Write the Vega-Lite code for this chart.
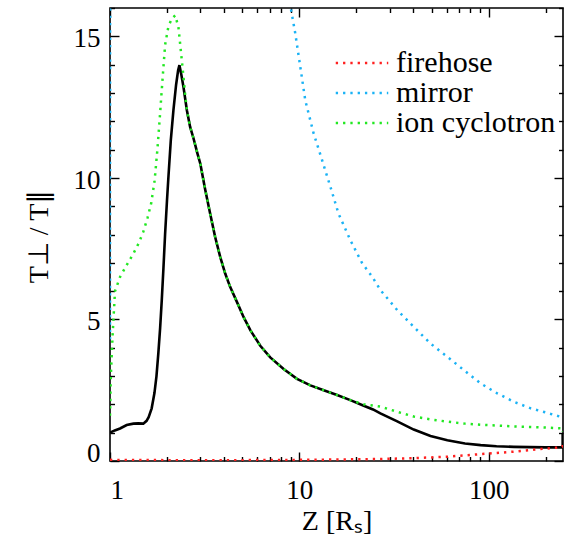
{
  "$schema": "https://vega.github.io/schema/vega-lite/v6.json",
  "width": 453,
  "height": 453,
  "autosize": "none",
  "padding": {"left": 110, "top": 8, "right": 15, "bottom": 79},
  "background": "white",
  "config": {
    "view": {"stroke": "black", "strokeWidth": 1.6},
    "font": "Liberation Serif",
    "axis": {
      "grid": false,
      "domain": false,
      "ticks": true,
      "tickColor": "black",
      "tickWidth": 1.4,
      "labelFont": "Liberation Serif",
      "labelFontSize": 27,
      "labelColor": "black",
      "labelOverlap": false,
      "titleFont": "Liberation Serif",
      "titleFontSize": 28,
      "titleFontWeight": "normal",
      "titleColor": "black"
    }
  },
  "datasets": {
    "T": [
      {"z":1.0,"v":1.0},{"z":1.06,"v":1.08},{"z":1.13,"v":1.15},{"z":1.225,"v":1.27},{"z":1.33,"v":1.32},{"z":1.41,"v":1.33},{"z":1.5,"v":1.32},{"z":1.56,"v":1.42},{"z":1.6,"v":1.55},{"z":1.66,"v":1.86},{"z":1.717,"v":2.4},{"z":1.76,"v":3.0},{"z":1.8,"v":3.8},{"z":1.84,"v":4.7},{"z":1.877,"v":5.68},{"z":1.915,"v":6.8},{"z":1.954,"v":8.0},{"z":2.0,"v":9.2},{"z":2.035,"v":10.03},{"z":2.095,"v":11.33},{"z":2.163,"v":12.39},{"z":2.235,"v":13.3},{"z":2.29,"v":13.8},{"z":2.327,"v":13.98},{"z":2.38,"v":13.65},{"z":2.444,"v":13.21},{"z":2.547,"v":12.39},{"z":2.65,"v":11.8},{"z":2.76,"v":11.4},{"z":2.9,"v":10.85},{"z":3.0,"v":10.5},{"z":3.18,"v":9.6},{"z":3.38,"v":8.74},{"z":3.59,"v":7.92},{"z":3.82,"v":7.21},{"z":4.06,"v":6.62},{"z":4.31,"v":6.15},{"z":4.68,"v":5.62},{"z":5.08,"v":5.08},{"z":5.51,"v":4.62},{"z":6.22,"v":4.07},{"z":7.02,"v":3.66},{"z":8.26,"v":3.25},{"z":9.72,"v":2.9},{"z":11.44,"v":2.67},{"z":13.45,"v":2.5},{"z":15.82,"v":2.33},{"z":18.6,"v":2.15},{"z":21.9,"v":1.95},{"z":24.5,"v":1.82},{"z":26.8,"v":1.68},{"z":32.9,"v":1.4},{"z":40.2,"v":1.11},{"z":49.3,"v":0.88},{"z":60.5,"v":0.73},{"z":75,"v":0.62},{"z":90.7,"v":0.56},{"z":110,"v":0.52},{"z":136,"v":0.5},{"z":200,"v":0.48},{"z":246,"v":0.48},{"z":246,"v":0.95}
    ],
    "thr": [
      {"s":"firehose","g":"f","z":1.0,"v":0.04},{"s":"firehose","g":"f","z":2,"v":0.03},{"s":"firehose","g":"f","z":5,"v":0.03},{"s":"firehose","g":"f","z":10,"v":0.04},{"s":"firehose","g":"f","z":15,"v":0.05},{"s":"firehose","g":"f","z":20,"v":0.06},{"s":"firehose","g":"f","z":26.8,"v":0.07},{"s":"firehose","g":"f","z":40,"v":0.1},{"s":"firehose","g":"f","z":60,"v":0.15},{"s":"firehose","g":"f","z":90,"v":0.24},{"s":"firehose","g":"f","z":136,"v":0.33},{"s":"firehose","g":"f","z":200,"v":0.44},{"s":"firehose","g":"f","z":240,"v":0.48},{"s":"firehose","g":"f","z":246,"v":0.5},{"s":"firehose","g":"f","z":246,"v":0.7},
      {"s":"mirror","g":"mA","z":1.0,"v":4.3},{"s":"mirror","g":"mA","z":1.0015,"v":16.5},
      {"s":"mirror","g":"mB","z":8.9,"v":16.2},{"s":"mirror","g":"mB","z":9.52,"v":15.1},{"s":"mirror","g":"mB","z":10.12,"v":13.92},{"s":"mirror","g":"mB","z":10.75,"v":12.74},{"s":"mirror","g":"mB","z":11.9,"v":11.57},{"s":"mirror","g":"mB","z":13.2,"v":10.62},{"s":"mirror","g":"mB","z":14.6,"v":9.68},{"s":"mirror","g":"mB","z":16.1,"v":8.74},{"s":"mirror","g":"mB","z":18.6,"v":7.8},{"s":"mirror","g":"mB","z":21.5,"v":6.98},{"s":"mirror","g":"mB","z":23.4,"v":6.65},{"s":"mirror","g":"mB","z":24.3,"v":6.5},{"s":"mirror","g":"mB","z":26.8,"v":6.04},{"s":"mirror","g":"mB","z":32.9,"v":5.33},{"s":"mirror","g":"mB","z":40.2,"v":4.74},{"s":"mirror","g":"mB","z":49.3,"v":4.15},{"s":"mirror","g":"mB","z":60.5,"v":3.68},{"s":"mirror","g":"mB","z":74,"v":3.21},{"s":"mirror","g":"mB","z":90.7,"v":2.74},{"s":"mirror","g":"mB","z":111,"v":2.39},{"s":"mirror","g":"mB","z":136,"v":2.09},{"s":"mirror","g":"mB","z":167,"v":1.86},{"s":"mirror","g":"mB","z":204,"v":1.7},{"s":"mirror","g":"mB","z":240,"v":1.56},{"s":"mirror","g":"mB","z":246,"v":1.5},
      {"s":"ion cyclotron","g":"c","z":1.0,"v":1.6},{"s":"ion cyclotron","g":"c","z":1.01,"v":3.0},{"s":"ion cyclotron","g":"c","z":1.033,"v":4.5},{"s":"ion cyclotron","g":"c","z":1.063,"v":6.0},{"s":"ion cyclotron","g":"c","z":1.13,"v":6.5},{"s":"ion cyclotron","g":"c","z":1.22,"v":6.9},{"s":"ion cyclotron","g":"c","z":1.33,"v":7.33},{"s":"ion cyclotron","g":"c","z":1.42,"v":7.7},{"s":"ion cyclotron","g":"c","z":1.5,"v":8.1},{"s":"ion cyclotron","g":"c","z":1.58,"v":8.6},{"s":"ion cyclotron","g":"c","z":1.65,"v":9.1},{"s":"ion cyclotron","g":"c","z":1.72,"v":9.9},{"s":"ion cyclotron","g":"c","z":1.78,"v":11.0},{"s":"ion cyclotron","g":"c","z":1.84,"v":12.3},{"s":"ion cyclotron","g":"c","z":1.9,"v":13.6},{"s":"ion cyclotron","g":"c","z":1.955,"v":14.7},{"s":"ion cyclotron","g":"c","z":2.035,"v":15.35},{"s":"ion cyclotron","g":"c","z":2.12,"v":15.62},{"s":"ion cyclotron","g":"c","z":2.21,"v":15.74},{"s":"ion cyclotron","g":"c","z":2.298,"v":15.33},{"s":"ion cyclotron","g":"c","z":2.346,"v":14.74},{"s":"ion cyclotron","g":"c","z":2.395,"v":14.15},{"s":"ion cyclotron","g":"c","z":2.444,"v":13.56},{"s":"ion cyclotron","g":"c","z":2.494,"v":12.95},{"s":"ion cyclotron","g":"c","z":2.547,"v":12.39},{"s":"ion cyclotron","g":"c","z":2.65,"v":11.8},{"s":"ion cyclotron","g":"c","z":2.76,"v":11.4},{"s":"ion cyclotron","g":"c","z":2.9,"v":10.85},{"s":"ion cyclotron","g":"c","z":3.0,"v":10.5},{"s":"ion cyclotron","g":"c","z":3.18,"v":9.6},{"s":"ion cyclotron","g":"c","z":3.38,"v":8.74},{"s":"ion cyclotron","g":"c","z":3.59,"v":7.92},{"s":"ion cyclotron","g":"c","z":3.82,"v":7.21},{"s":"ion cyclotron","g":"c","z":4.06,"v":6.62},{"s":"ion cyclotron","g":"c","z":4.31,"v":6.15},{"s":"ion cyclotron","g":"c","z":4.68,"v":5.62},{"s":"ion cyclotron","g":"c","z":5.08,"v":5.08},{"s":"ion cyclotron","g":"c","z":5.51,"v":4.62},{"s":"ion cyclotron","g":"c","z":6.22,"v":4.07},{"s":"ion cyclotron","g":"c","z":7.02,"v":3.66},{"s":"ion cyclotron","g":"c","z":8.26,"v":3.25},{"s":"ion cyclotron","g":"c","z":9.72,"v":2.9},{"s":"ion cyclotron","g":"c","z":11.44,"v":2.67},{"s":"ion cyclotron","g":"c","z":13.45,"v":2.5},{"s":"ion cyclotron","g":"c","z":15.82,"v":2.33},{"s":"ion cyclotron","g":"c","z":18.6,"v":2.15},{"s":"ion cyclotron","g":"c","z":21.9,"v":2.0},{"s":"ion cyclotron","g":"c","z":24.5,"v":1.96},{"s":"ion cyclotron","g":"c","z":26.8,"v":1.92},{"s":"ion cyclotron","g":"c","z":32.9,"v":1.74},{"s":"ion cyclotron","g":"c","z":40.2,"v":1.57},{"s":"ion cyclotron","g":"c","z":49.3,"v":1.47},{"s":"ion cyclotron","g":"c","z":60.5,"v":1.39},{"s":"ion cyclotron","g":"c","z":75,"v":1.32},{"s":"ion cyclotron","g":"c","z":90.7,"v":1.28},{"s":"ion cyclotron","g":"c","z":136,"v":1.22},{"s":"ion cyclotron","g":"c","z":200,"v":1.18},{"s":"ion cyclotron","g":"c","z":246,"v":1.15},{"s":"ion cyclotron","g":"c","z":246,"v":1.03}
    ]
  },
  "layer": [
    {
      "data": {"name": "T"},
      "mark": {"type": "line", "color": "black", "strokeWidth": 2.6, "clip": true},
      "encoding": {
        "x": {
          "field": "z", "type": "quantitative",
          "scale": {"type": "log", "domain": [1, 247], "nice": false},
          "axis": {
            "orient": "bottom",
            "values": [1, 10, 100],
            "format": "d",
            "offset": -9,
            "tickSize": 9,
            "labelPadding": 16,
            "labelBaseline": "top",
            "title": "Z [Rₛ]",
            "titleBaseline": "alphabetic",
            "titleY": 77
          }
        },
        "y": {
          "field": "v", "type": "quantitative",
          "scale": {"domain": [0, 16], "nice": false, "zero": false},
          "axis": {
            "orient": "left",
            "values": [0, 5, 10, 15],
            "offset": -9,
            "tickSize": 9,
            "labelPadding": 10,
            "labelBaseline": "middle",
            "labelOffset": {"expr": "datum.value == 0 ? -8 : 2.5"},
            "title": "T⊥ / T∥",
            "titleAngle": 270,
            "titleBaseline": "alphabetic",
            "titleAlign": "center",
            "titleX": -72,
            "titleY": 228
          }
        },
        "order": {"value": null}
      }
    },
    {
      "data": {"name": "thr"},
      "transform": [{"filter": "datum.s == 'firehose'"}],
      "mark": {"type": "line", "strokeWidth": 2.5, "strokeDash": [2.3, 5], "strokeCap": "butt", "clip": true},
      "encoding": {
        "x": {
          "field": "z", "type": "quantitative",
          "scale": {"type": "log", "domain": [1, 247], "nice": false},
          "axis": {"orient": "bottom", "values": [2,3,4,5,6,7,8,9,20,30,40,50,60,70,80,90,200], "offset": -4.5, "tickSize": 4.5, "labels": false, "title": null}
        },
        "y": {
          "field": "v", "type": "quantitative",
          "scale": {"domain": [0, 16], "nice": false, "zero": false},
          "axis": {"orient": "left", "values": [1,2,3,4,6,7,8,9,11,12,13,14,16], "offset": -4.5, "tickSize": 4.5, "labels": false, "title": null}
        },
        "color": {
          "field": "s", "type": "nominal",
          "scale": {"domain": ["firehose", "mirror", "ion cyclotron"], "range": ["#ff2020", "#1ab2f5", "#22e822"]},
          "legend": {
            "orient": "none", "legendX": 237, "legendY": 40, "title": null, "padding": 0,
            "symbolType": "M-2.5,0H2.5", "symbolSize": 441, "symbolStrokeWidth": 2.5, "symbolDash": [2.3, 5],
            "labelFont": "Liberation Serif", "labelFontSize": 30, "labelColor": "black", "labelOffset": 19, "labelLimit": 300, "rowPadding": -2
          }
        },
        "detail": {"field": "g"},
        "order": {"value": null}
      }
    },
    {
      "data": {"name": "thr"},
      "transform": [{"filter": "datum.s == 'mirror'"}],
      "mark": {"type": "line", "strokeWidth": 2.5, "strokeDash": [2.3, 5], "strokeCap": "butt", "clip": true},
      "encoding": {
        "x": {
          "field": "z", "type": "quantitative",
          "scale": {"type": "log", "domain": [1, 247], "nice": false},
          "axis": {"orient": "top", "values": [1, 10, 100], "offset": -9, "tickSize": 9, "labels": false, "title": null}
        },
        "y": {
          "field": "v", "type": "quantitative",
          "scale": {"domain": [0, 16], "nice": false, "zero": false},
          "axis": {"orient": "right", "values": [0, 5, 10, 15], "offset": -9, "tickSize": 9, "labels": false, "title": null}
        },
        "color": {
          "field": "s", "type": "nominal",
          "scale": {"domain": ["firehose", "mirror", "ion cyclotron"], "range": ["#ff2020", "#1ab2f5", "#22e822"]},
          "legend": {
            "orient": "none", "legendX": 237, "legendY": 40, "title": null, "padding": 0,
            "symbolType": "M-2.5,0H2.5", "symbolSize": 441, "symbolStrokeWidth": 2.5, "symbolDash": [2.3, 5],
            "labelFont": "Liberation Serif", "labelFontSize": 30, "labelColor": "black", "labelOffset": 19, "labelLimit": 300, "rowPadding": -2
          }
        },
        "detail": {"field": "g"},
        "order": {"value": null}
      }
    },
    {
      "data": {"name": "thr"},
      "transform": [{"filter": "datum.s == 'ion cyclotron'"}],
      "mark": {"type": "line", "strokeWidth": 2.5, "strokeDash": [2.3, 5], "strokeCap": "butt", "clip": true},
      "encoding": {
        "x": {
          "field": "z", "type": "quantitative",
          "scale": {"type": "log", "domain": [1, 247], "nice": false},
          "axis": {"orient": "top", "values": [2,3,4,5,6,7,8,9,20,30,40,50,60,70,80,90,200], "offset": -4.5, "tickSize": 4.5, "labels": false, "title": null}
        },
        "y": {
          "field": "v", "type": "quantitative",
          "scale": {"domain": [0, 16], "nice": false, "zero": false},
          "axis": {"orient": "right", "values": [1,2,3,4,6,7,8,9,11,12,13,14,16], "offset": -4.5, "tickSize": 4.5, "labels": false, "title": null}
        },
        "color": {
          "field": "s", "type": "nominal",
          "scale": {"domain": ["firehose", "mirror", "ion cyclotron"], "range": ["#ff2020", "#1ab2f5", "#22e822"]},
          "legend": {
            "orient": "none", "legendX": 237, "legendY": 40, "title": null, "padding": 0,
            "symbolType": "M-2.5,0H2.5", "symbolSize": 441, "symbolStrokeWidth": 2.5, "symbolDash": [2.3, 5],
            "labelFont": "Liberation Serif", "labelFontSize": 30, "labelColor": "black", "labelOffset": 19, "labelLimit": 300, "rowPadding": -2
          }
        },
        "detail": {"field": "g"},
        "order": {"value": null}
      }
    }
  ],
  "resolve": {"axis": {"x": "independent", "y": "independent"}}
}
